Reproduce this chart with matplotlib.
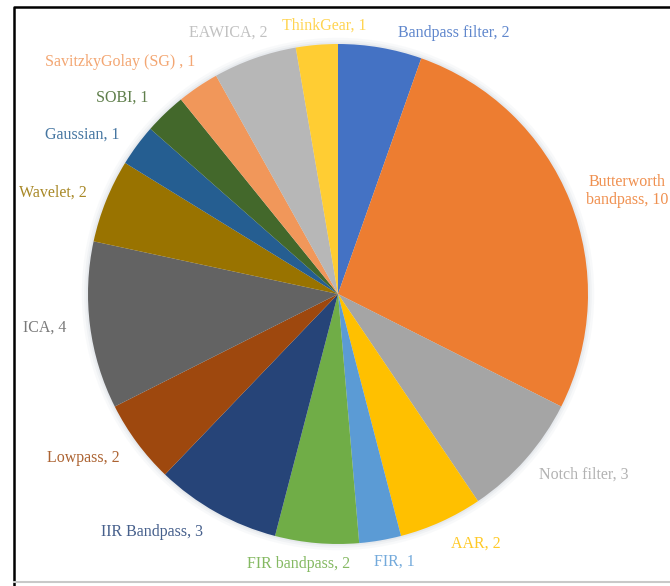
import matplotlib.pyplot as plt
from matplotlib.lines import Line2D
from matplotlib.patches import Circle

plt.rcParams['font.family'] = ['Liberation Serif', 'DejaVu Serif']

methods = ["Bandpass filter", "Butterworth\nbandpass", "Notch filter", "AAR", "FIR",
           "FIR bandpass", "IIR Bandpass", "Lowpass", "ICA", "Wavelet", "Gaussian",
           "SOBI", "SavitzkyGolay (SG) ", "EAWICA", "ThinkGear"]
counts = [2, 10, 3, 2, 1, 2, 3, 2, 4, 2, 1, 1, 1, 2, 1]
colors = ["#4472C4", "#ED7D31", "#A5A5A5", "#FFC000", "#5B9BD5", "#70AD47",
          "#264478", "#9E480E", "#636363", "#997300", "#255E91", "#43682B",
          "#F1975A", "#B7B7B7", "#FFCD33"]

# where each data label sits (pie radius = 1)
label_xy = [(0.464, 1.044), (1.156, 0.412), (0.984, -0.724), (0.552, -1.0),
            (0.224, -1.072), (-0.156, -1.08), (-0.744, -0.952), (-1.02, -0.656),
            (-1.172, -0.136), (-1.14, 0.404), (-1.024, 0.636), (-0.864, 0.784),
            (-0.872, 0.928), (-0.44, 1.044), (-0.056, 1.072)]

fig = plt.figure(figsize=(6.7, 5.86), dpi=100)
ax = fig.add_axes([0, 0, 1, 1])

# soft glow around the pie edge
for r, a in [(1.025, 0.05), (1.015, 0.07), (1.007, 0.09)]:
    ax.add_patch(Circle((0, 0), r, color="#8899AA", alpha=a, lw=0, zorder=0))

wedges, _ = ax.pie(counts, colors=colors, startangle=90, counterclock=False,
                   radius=1.0, center=(0, 0), frame=True,
                   wedgeprops=dict(linewidth=0))

for name, n, c, (x, y) in zip(methods, counts, colors, label_xy):
    ax.text(x, y, f"{name}, {n}", color=c, fontsize=11.5, alpha=0.85,
            ha="center", va="center", linespacing=1.15, zorder=5)

ax.set_xlim(-1.352, 1.328)
ax.set_ylim(-1.168, 1.176)
ax.set_aspect("equal")
ax.axis("off")

# chart frame: dark left/top edge, light bottom edge
fig.lines.append(Line2D([0.021, 0.021, 1.0], [0.0, 0.988, 0.988],
                        transform=fig.transFigure, color="black", linewidth=1.8))
fig.lines.append(Line2D([0.021, 1.0], [0.006, 0.006],
                        transform=fig.transFigure, color="#C8C8C8", linewidth=1.5))

fig.savefig("out.png", dpi=100)
